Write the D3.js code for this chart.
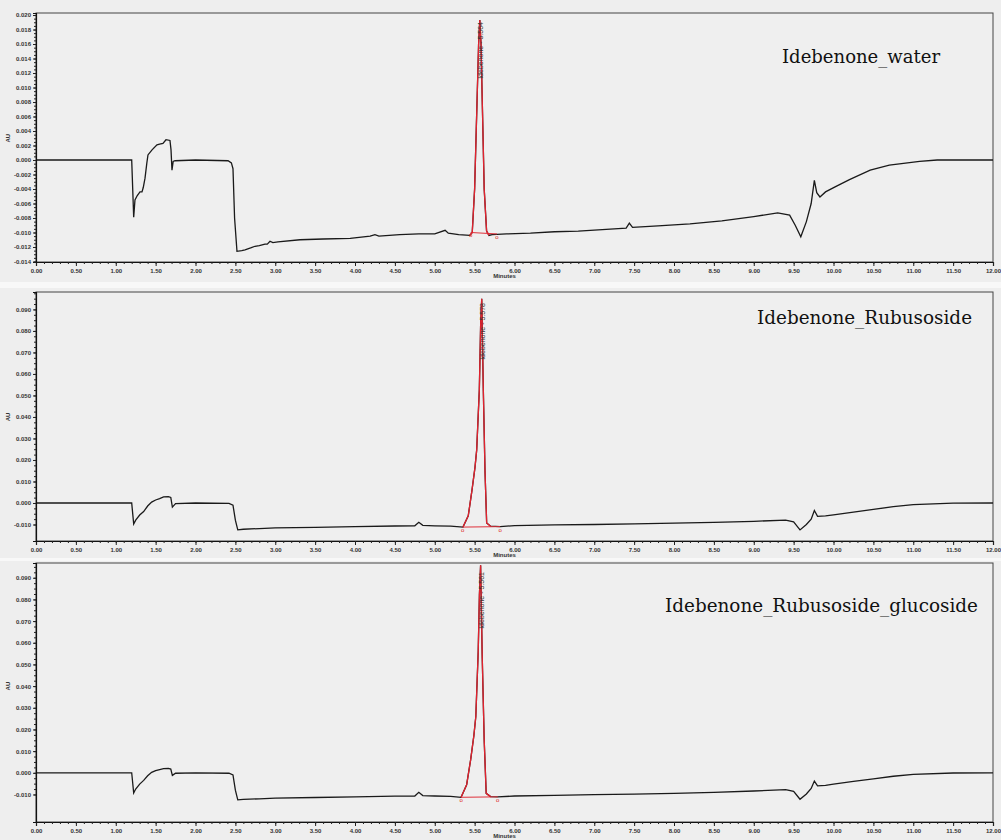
<!DOCTYPE html>
<html>
<head>
<meta charset="utf-8">
<script src="https://cdn.jsdelivr.net/npm/d3@7"></script>
<style>
  body { margin: 0; background: #eeeeee; }
  svg { display: block; }
  .tick text { font-family: "Liberation Sans", Arial, sans-serif; font-size: 6px; fill: #333; font-weight: bold; }
</style>
</head>
<body>
<div id="chart"></div>
<script>
// x ticks (minutes)
var xTicks = [0, 0.5, 1, 1.5, 2, 2.5, 3, 3.5, 4, 4.5, 5, 5.5, 6, 6.5, 7, 7.5, 8, 8.5, 9, 9.5, 10, 10.5, 11, 11.5, 12];
var yTicksWater = [-0.014, -0.012, -0.010, -0.008, -0.006, -0.004, -0.002, 0, 0.002, 0.004, 0.006, 0.008, 0.010, 0.012, 0.014, 0.016, 0.018, 0.020];
var yTicksRubu = [-0.010, 0, 0.010, 0.020, 0.030, 0.040, 0.050, 0.060, 0.070, 0.080, 0.090];

var titles = ["Idebenone_water", "Idebenone_Rubusoside", "Idebenone_Rubusoside_glucoside"];
var peakLabels = ["Idebenone - 5.564", "Idebenone - 5.578", "Idebenone - 5.561"];

// panel 1 : water
var time1 = [0, 0.5, 1.0, 1.20, 1.225, 1.241, 1.27, 1.304, 1.329, 1.345, 1.367, 1.39, 1.404, 1.455, 1.517, 1.55, 1.592, 1.63, 1.68, 1.693, 1.705, 1.72, 1.743, 2.0, 2.408, 2.45, 2.47, 2.49, 2.52, 2.58, 2.621, 2.70, 2.746, 2.80, 2.871, 2.90, 2.934, 2.97, 3.034, 3.31, 3.6, 3.94, 4.19, 4.25, 4.3, 4.56, 4.8, 5.0, 5.13, 5.17, 5.3, 5.44, 5.47, 5.50, 5.53, 5.55, 5.565, 5.58, 5.60, 5.62, 5.65, 5.68, 5.72, 5.9, 6.2, 6.5, 6.8, 7.1, 7.4, 7.44, 7.48, 7.8, 8.2, 8.6, 9.0, 9.3, 9.45, 9.52, 9.59, 9.66, 9.72, 9.76, 9.79, 9.83, 9.9, 10.02, 10.2, 10.46, 10.7, 11.08, 11.3, 12];
var au1 = [0, 0, 0, 0, -0.0079, -0.0055, -0.0049, -0.0044, -0.0044, -0.0038, -0.0025, -0.0004, 0.0007, 0.0014, 0.0021, 0.0022, 0.0023, 0.0028, 0.0027, 0.0014, -0.0014, -0.0002, -0.0001, 0, -0.0001, -0.0004, -0.0012, -0.0080, -0.0126, -0.0125, -0.0124, -0.0121, -0.0119, -0.0118, -0.0116, -0.0116, -0.0112, -0.0114, -0.0113, -0.0110, -0.0109, -0.0108, -0.0105, -0.0103, -0.0105, -0.0103, -0.0102, -0.0102, -0.0097, -0.0101, -0.0103, -0.0104, -0.0100, -0.0040, 0.0080, 0.0160, 0.0193, 0.0160, 0.0060, -0.0040, -0.0098, -0.0104, -0.0103, -0.0102, -0.0101, -0.0099, -0.0098, -0.0096, -0.0094, -0.0087, -0.0093, -0.0091, -0.0088, -0.0084, -0.0078, -0.0073, -0.0076, -0.0090, -0.0106, -0.0085, -0.0060, -0.0028, -0.0045, -0.0051, -0.0044, -0.0037, -0.0027, -0.0014, -0.0007, -0.0002, 0, 0];
var peakTime1 = [5.44, 5.47, 5.50, 5.53, 5.55, 5.565, 5.58, 5.60, 5.62, 5.65, 5.68];
var peakAu1 = [-0.0104, -0.0100, -0.0040, 0.0080, 0.0160, 0.0193, 0.0160, 0.0060, -0.0040, -0.0098, -0.0104];
var marks1 = [5.45, 5.78];

// panel 2 : rubusoside
var time2 = [0, 0.5, 1.0, 1.20, 1.225, 1.25, 1.30, 1.35, 1.40, 1.45, 1.50, 1.55, 1.60, 1.66, 1.69, 1.71, 1.75, 2.0, 2.42, 2.47, 2.50, 2.53, 2.6, 2.8, 3.0, 3.5, 4.0, 4.5, 4.75, 4.8, 4.85, 5.0, 5.2, 5.354, 5.42, 5.467, 5.505, 5.526, 5.559, 5.575, 5.589, 5.609, 5.63, 5.651, 5.70, 5.82, 6.0, 6.5, 7.0, 7.5, 8.0, 8.5, 9.0, 9.4, 9.5, 9.58, 9.66, 9.72, 9.76, 9.80, 9.9, 10.0, 10.25, 10.5, 10.75, 11.0, 11.5, 12];
var au2 = [0, 0, 0, 0, -0.0098, -0.0080, -0.0056, -0.0040, -0.0014, 0.0004, 0.0014, 0.0020, 0.0028, 0.0030, 0.0026, -0.0019, -0.0003, 0, -0.0002, -0.0010, -0.0080, -0.0125, -0.0122, -0.0119, -0.0116, -0.0113, -0.0110, -0.0107, -0.0106, -0.0090, -0.0104, -0.0106, -0.0108, -0.0112, -0.0060, 0.0060, 0.0167, 0.0247, 0.0526, 0.0820, 0.0950, 0.0526, 0.0150, -0.0093, -0.0108, -0.0110, -0.0105, -0.0102, -0.0100, -0.0097, -0.0094, -0.0090, -0.0085, -0.0080, -0.0088, -0.0125, -0.0100, -0.0075, -0.0035, -0.0062, -0.0060, -0.0055, -0.0042, -0.0030, -0.0017, -0.0008, -0.0001, 0];
var peakTime2 = [5.354, 5.42, 5.467, 5.505, 5.526, 5.559, 5.575, 5.589, 5.609, 5.63, 5.651, 5.70];
var peakAu2 = [-0.0112, -0.0060, 0.0060, 0.0167, 0.0247, 0.0526, 0.0820, 0.0950, 0.0526, 0.0150, -0.0093, -0.0108];
var marks2 = [5.35, 5.82];

// panel 3 : rubusoside glucoside
var time3 = [0, 0.5, 1.0, 1.20, 1.225, 1.25, 1.30, 1.35, 1.40, 1.45, 1.50, 1.55, 1.60, 1.66, 1.69, 1.71, 1.75, 2.0, 2.42, 2.47, 2.50, 2.53, 2.6, 2.8, 3.0, 3.5, 4.0, 4.5, 4.75, 4.8, 4.85, 5.0, 5.2, 5.33, 5.40, 5.45, 5.49, 5.515, 5.545, 5.56, 5.575, 5.595, 5.62, 5.645, 5.70, 5.79, 6.0, 6.5, 7.0, 7.5, 8.0, 8.5, 9.0, 9.4, 9.5, 9.58, 9.66, 9.72, 9.76, 9.80, 9.9, 10.0, 10.25, 10.5, 10.75, 11.0, 11.5, 12];
var au3 = [0, 0, 0, 0, -0.0093, -0.0075, -0.0052, -0.0035, -0.0014, 0.0002, 0.0010, 0.0015, 0.0019, 0.0020, 0.0017, -0.0012, -0.0002, 0, -0.0002, -0.0010, -0.0080, -0.0125, -0.0123, -0.0120, -0.0117, -0.0114, -0.0111, -0.0108, -0.0107, -0.0090, -0.0105, -0.0107, -0.0109, -0.0113, -0.0055, 0.0060, 0.0170, 0.0260, 0.0560, 0.0820, 0.0958, 0.0540, 0.0150, -0.0095, -0.0110, -0.0111, -0.0107, -0.0104, -0.0101, -0.0098, -0.0095, -0.0090, -0.0084, -0.0078, -0.0086, -0.0122, -0.0098, -0.0072, -0.0038, -0.0060, -0.0058, -0.0052, -0.0040, -0.0028, -0.0016, -0.0007, -0.0001, 0];
var peakTime3 = [5.33, 5.40, 5.45, 5.49, 5.515, 5.545, 5.56, 5.575, 5.595, 5.62, 5.645, 5.70];
var peakAu3 = [-0.0113, -0.0055, 0.0060, 0.0170, 0.0260, 0.0560, 0.0820, 0.0958, 0.0540, 0.0150, -0.0095, -0.0110];
var marks3 = [5.33, 5.79];

var width = 1001, height = 840;
var left = 36, right = 993;

var panels = [
  { top: 13, bottom: 262, yMin: -0.01407, yMax: 0.02028, ticks: yTicksWater, minor: 0.0005,
    time: time1, au: au1, pt: peakTime1, pa: peakAu1, marks: marks1,
    title: titles[0], tx: 782, ty: 63, tw: 158, label: peakLabels[0], ly: 22 },
  { top: 292, bottom: 541, yMin: -0.01767, yMax: 0.0981, ticks: yTicksRubu, minor: 0.0025,
    time: time2, au: au2, pt: peakTime2, pa: peakAu2, marks: marks2,
    title: titles[1], tx: 757, ty: 324, tw: 215, label: peakLabels[1], ly: 303 },
  { top: 563, bottom: 822, yMin: -0.0227, yMax: 0.0968, ticks: yTicksRubu, minor: 0.0025,
    time: time3, au: au3, pt: peakTime3, pa: peakAu3, marks: marks3,
    title: titles[2], tx: 665, ty: 612, tw: 313, label: peakLabels[2], ly: 572 }
];

var svg = d3.select("#chart").append("svg")
    .attr("width", width)
    .attr("height", height);

svg.append("rect").attr("width", width).attr("height", height).attr("fill", "#eeeeee");
// lighter gaps between the stacked screenshots
svg.append("rect").attr("x", 0).attr("y", 282).attr("width", width).attr("height", 6).attr("fill", "#f8f8f8");
svg.append("rect").attr("x", 0).attr("y", 558).attr("width", width).attr("height", 3).attr("fill", "#f8f8f8");

var x = d3.scaleLinear().domain([0, 12]).range([left, right]);

panels.forEach(function (p, i) {
    var y = d3.scaleLinear().domain([p.yMin, p.yMax]).range([p.bottom, p.top]);
    var g = svg.append("g");

    // frame (top / right)
    g.append("rect")
        .attr("x", left).attr("y", p.top)
        .attr("width", right - left).attr("height", p.bottom - p.top)
        .attr("fill", "#efefef")
        .attr("stroke", "#444").attr("stroke-width", 1);

    // title
    g.append("text")
        .attr("x", p.tx).attr("y", p.ty)
        .attr("textLength", p.tw).attr("lengthAdjust", "spacingAndGlyphs")
        .style("font-family", "'DejaVu Serif', 'Liberation Serif', serif")
        .style("font-size", "18px")
        .style("fill", "#111")
        .text(p.title);

    // black trace
    var line = d3.line()
        .x(function (d) { return x(d[0]); })
        .y(function (d) { return y(d[1]); });

    g.append("path")
        .datum(d3.zip(p.time, p.au))
        .attr("fill", "none")
        .attr("stroke", "#1a1a1a")
        .attr("stroke-width", 1.3)
        .attr("d", line);

    // red baseline between markers
    var b0 = d3.bisectLeft(p.time, p.marks[0]), b1 = d3.bisectLeft(p.time, p.marks[1]);
    var v0 = p.au[Math.min(b0, p.au.length - 1)], v1 = p.au[Math.min(b1, p.au.length - 1)];
    g.append("line")
        .attr("x1", x(p.marks[0])).attr("y1", y(v0))
        .attr("x2", x(p.marks[1])).attr("y2", y(v1))
        .attr("stroke", "#e0303a").attr("stroke-width", 1);

    // red peak
    g.append("path")
        .datum(d3.zip(p.pt, p.pa))
        .attr("fill", "none")
        .attr("stroke", "#e2222e")
        .attr("stroke-width", 1.3)
        .attr("d", line);

    // baseline markers
    g.selectAll(".mark")
        .data([[p.marks[0], v0], [p.marks[1], v1]])
        .enter().append("text")
        .attr("x", function (d) { return x(d[0]); })
        .attr("y", function (d) { return y(d[1]) + 5; })
        .attr("text-anchor", "middle")
        .style("font-family", "Liberation Sans, Arial, sans-serif")
        .style("font-size", "6px")
        .style("fill", "#d22")
        .text("o");

    // peak label
    var apex = d3.maxIndex(p.pa);
    g.append("text")
        .attr("transform", "translate(" + (x(p.pt[apex]) + 3) + "," + p.ly + ")rotate(-90)")
        .attr("text-anchor", "end")
        .style("font-family", "Liberation Sans, Arial, sans-serif")
        .style("font-size", "7px")
        .style("fill", "#333")
        .text(p.label);

    // axes
    g.append("g")
        .attr("transform", "translate(0," + p.bottom + ")")
        .call(d3.axisBottom(x).tickValues(xTicks).tickSize(4).tickPadding(3)
            .tickFormat(function (d) { return d.toFixed(2); }));
    g.append("g")
        .attr("transform", "translate(0," + p.bottom + ")")
        .call(d3.axisBottom(x).tickValues(d3.range(0, 12.001, 0.1)).tickSize(2).tickFormat(""))
        .select(".domain").remove();

    g.append("g")
        .attr("transform", "translate(" + left + ",0)")
        .call(d3.axisLeft(y).tickValues(p.ticks).tickSize(3).tickPadding(2)
            .tickFormat(function (d) { return d.toFixed(3); }));
    g.append("g")
        .attr("transform", "translate(" + left + ",0)")
        .call(d3.axisLeft(y).tickValues(d3.range(p.ticks[0], p.yMax, p.minor)).tickSize(2).tickFormat(""))
        .select(".domain").remove();

    g.selectAll(".domain").attr("stroke", "#111").attr("stroke-width", 1.2);
    g.selectAll(".tick line").attr("stroke", "#222");

    // axis titles
    g.append("text")
        .attr("x", (left + right) / 2 - 10).attr("y", p.bottom + 16)
        .attr("text-anchor", "middle")
        .style("font-family", "Liberation Sans, Arial, sans-serif")
        .style("font-size", "6px").style("font-weight", "bold")
        .style("fill", "#333")
        .text("Minutes");

    g.append("text")
        .attr("transform", "translate(10," + y((p.ticks[0] + p.ticks[p.ticks.length - 1]) / 2) + ")rotate(-90)")
        .attr("text-anchor", "middle")
        .style("font-family", "Liberation Sans, Arial, sans-serif")
        .style("font-size", "6px").style("font-weight", "bold")
        .style("fill", "#333")
        .text("AU");
});
</script>
</body>
</html>
